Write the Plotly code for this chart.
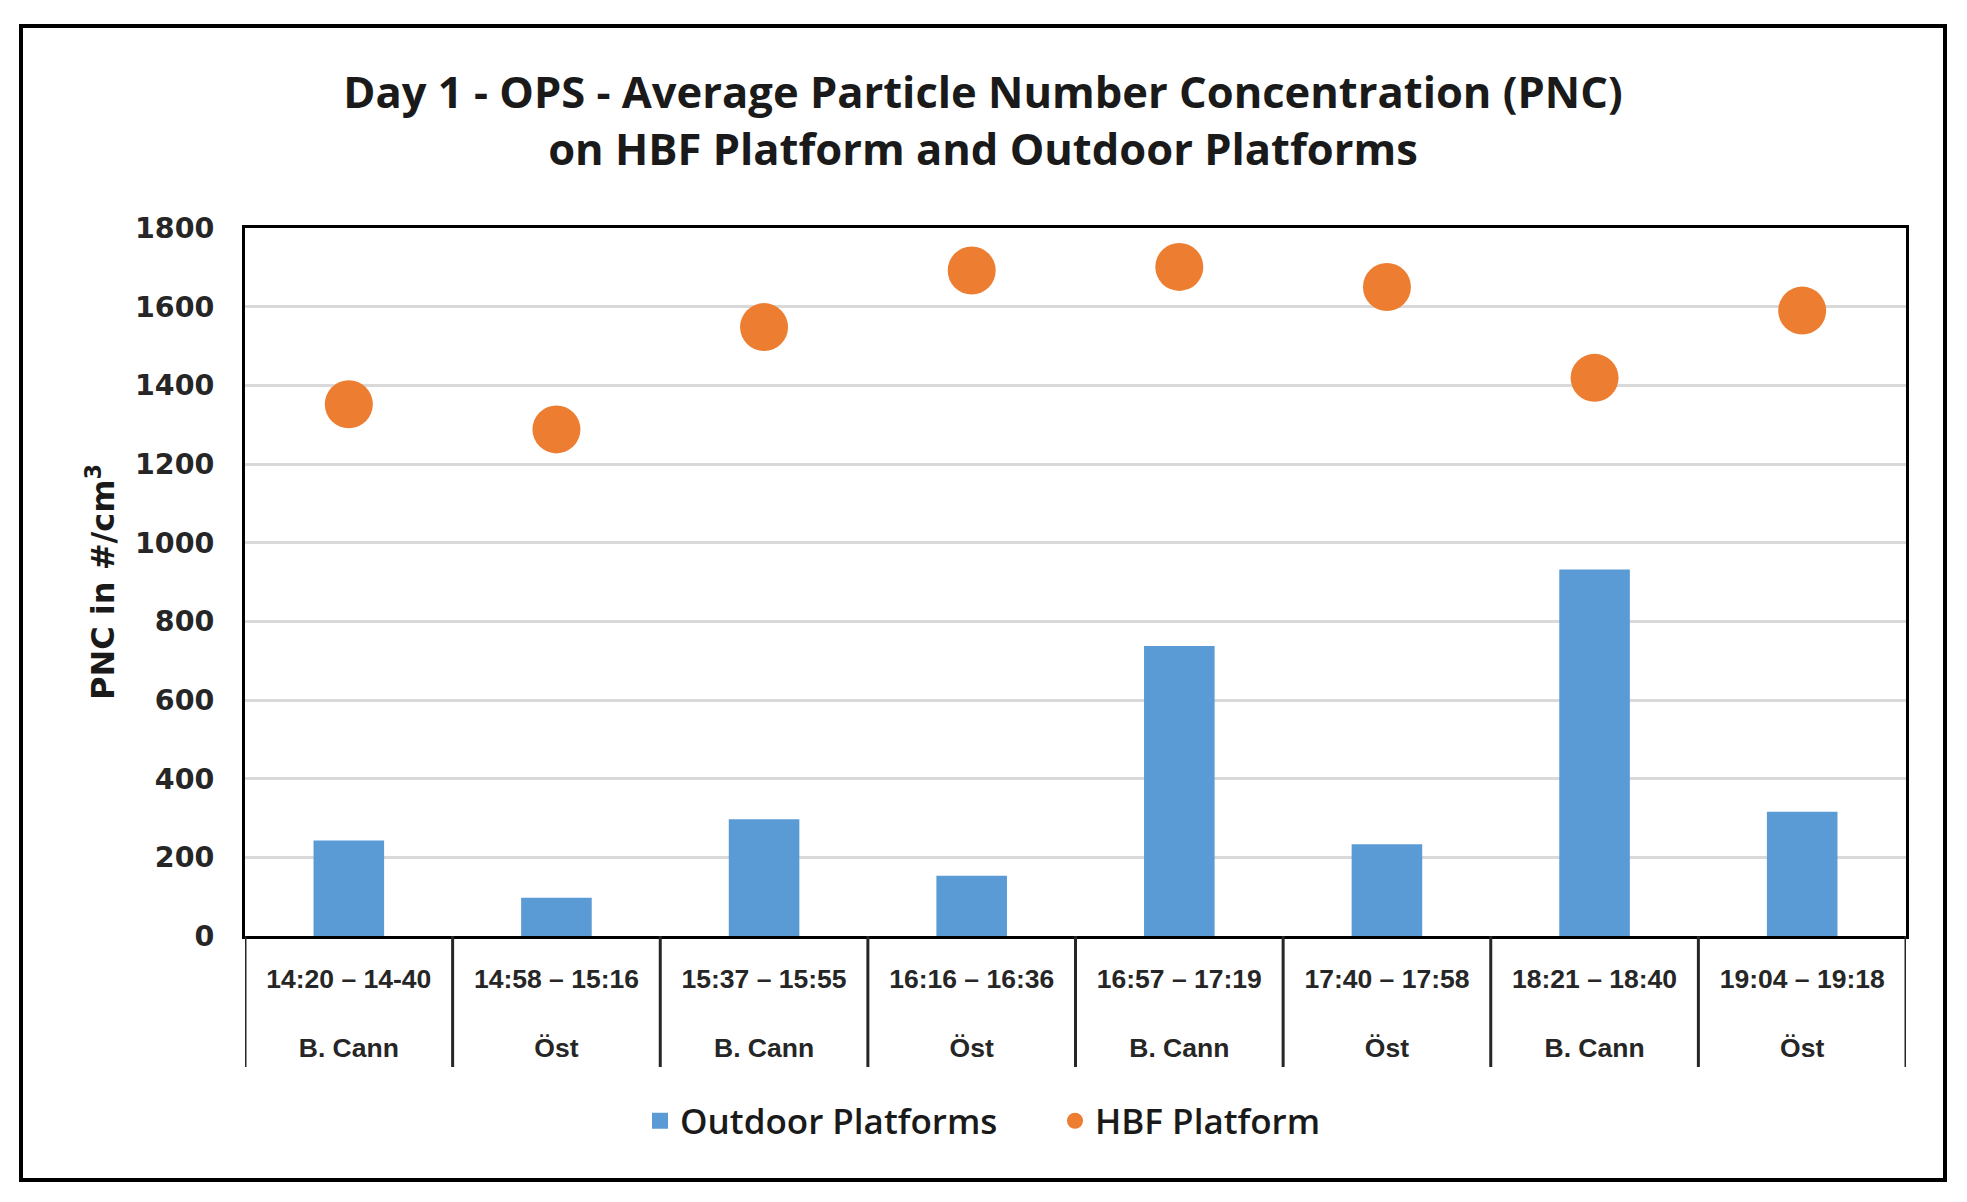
import plotly.graph_objects as go

time_labels = ["14:20 – 14-40", "14:58 – 15:16", "15:37 – 15:55", "16:16 – 16:36",
               "16:57 – 17:19", "17:40 – 17:58", "18:21 – 18:40", "19:04 – 19:18"]
locations = ["B. Cann", "Öst", "B. Cann", "Öst", "B. Cann", "Öst", "B. Cann", "Öst"]
outdoor_pnc = [243, 97, 297, 153, 737, 233, 932, 316]
hbf_pnc = [1352, 1288, 1548, 1692, 1701, 1650, 1419, 1590]
y_ticks = [0, 200, 400, 600, 800, 1000, 1200, 1400, 1600, 1800]

# page has an 8px body margin; figure coordinates = page coordinates - 8
W, H = 1951, 1186
L, R, T, B = 237, 53, 220, 258
pw, ph = W - L - R, H - T - B
bottom = T + ph  # plot bottom in figure px

idx = list(range(len(time_labels)))
ticktext = [f"{t}<br><br>{loc}" for t, loc in zip(time_labels, locations)]

fig = go.Figure()
fig.add_trace(go.Bar(x=idx, y=outdoor_pnc, name="Outdoor Platforms", showlegend=False,
                     marker=dict(color="#5B9BD5", line=dict(width=0))))
fig.add_trace(go.Scatter(x=[None], y=[None], name="Outdoor Platforms", mode="markers",
                         marker=dict(color="#5B9BD5", symbol="square", size=16)))
fig.add_trace(go.Scatter(x=idx, y=hbf_pnc, name="HBF Platform", mode="markers",
                         marker=dict(color="#ED7D31", size=48, line=dict(width=0))))

shapes = []
for k in range(len(idx) + 1):
    shapes.append(dict(type="line", xref="x", yref="paper", x0=k - 0.5, x1=k - 0.5,
                       y0=0, y1=-(1067 - 936) / ph, line=dict(color="#262626", width=3)))
shapes.append(dict(type="rect", xref="paper", yref="paper",
                   x0=(21 - 8 - L) / pw, x1=(1945 - 8 - L) / pw,
                   y0=(bottom - (1180 - 8)) / ph, y1=(bottom - (26 - 8)) / ph,
                   line=dict(color="black", width=4), fillcolor="rgba(0,0,0,0)", layer="below"))

fig.update_layout(
    width=W, height=H,
    margin=dict(l=L, r=R, t=T, b=B),
    paper_bgcolor="white", plot_bgcolor="white",
    bargap=0.66,
    title=dict(text="Day 1 - OPS - Average Particle Number Concentration (PNC)<br>on HBF Platform and Outdoor Platforms",
               x=(983 - 8) / W, xref="container", xanchor="center", y=1 - 100 / H, yanchor="middle",
               font=dict(family="Open Sans", size=43.5, color="#1a1a1a", weight="bold")),
    xaxis=dict(tickmode="array", tickvals=idx, ticktext=ticktext, range=[-0.5, len(idx) - 0.5],
               showgrid=False, showline=True, linecolor="black", linewidth=3, mirror=True,
               ticks="", tickfont=dict(family="Liberation Sans", size=26.5, color="#262626", weight="bold"),
               zeroline=False, ticklabelstandoff=17),
    yaxis=dict(range=[0, 1800], tickvals=y_ticks, showgrid=True, gridcolor="#D9D9D9", gridwidth=3,
               showline=True, linecolor="black", linewidth=3, mirror=True, zeroline=False,
               ticks="", ticklabelstandoff=22,
               tickfont=dict(family="DejaVu Sans", size=28.5, color="#262626", weight="bold"),
               title=dict(text="PNC in #/cm<sup>3</sup>", standoff=11,
                          font=dict(family="DejaVu Sans", size=32, color="#1a1a1a", weight="bold"))),
    legend=dict(orientation="h", x=(989 + 66 - 8 - L) / pw, xanchor="center", y=-(1121 - 936) / ph,
                yanchor="middle", font=dict(family="Open Sans", size=35, color="#1a1a1a", weight=600),
                traceorder="normal", itemwidth=30, entrywidth=370, entrywidthmode="pixels"),
    shapes=shapes,
)

fig.write_html("out.html")
